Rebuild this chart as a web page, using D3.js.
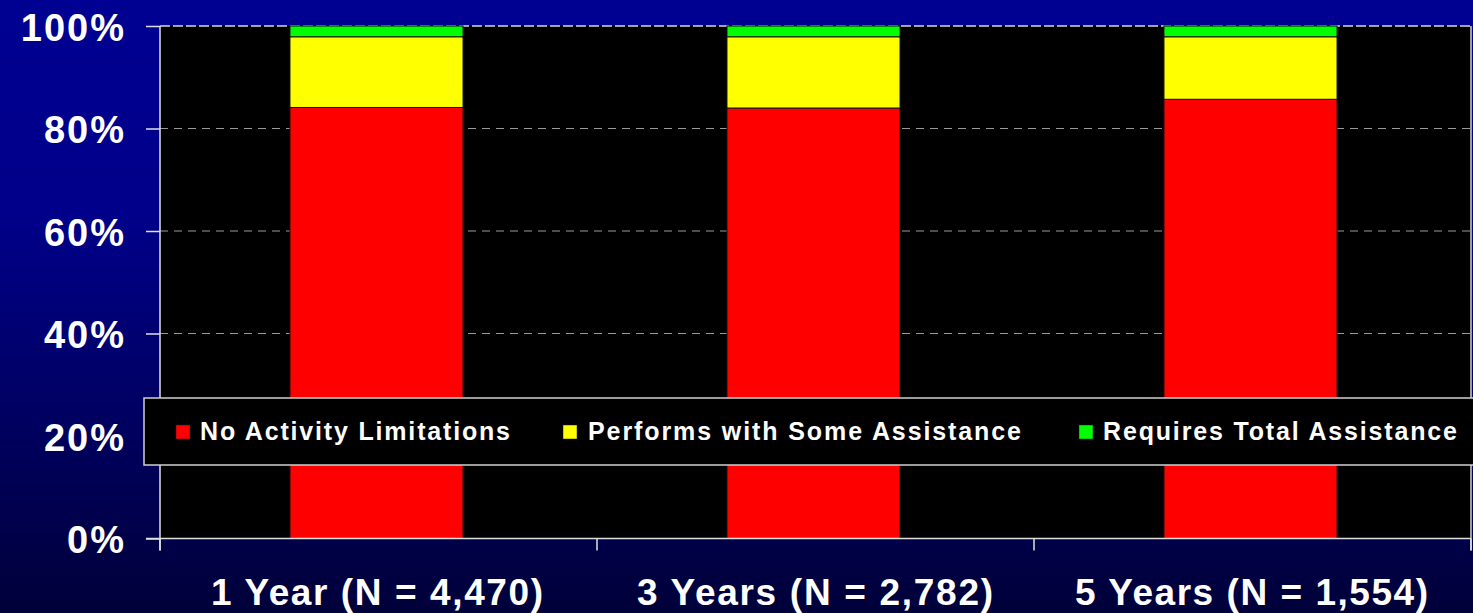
<!DOCTYPE html>
<html>
<head>
<meta charset="utf-8">
<script src="https://d3js.org/d3.v7.min.js"></script>
<style>
  html, body { margin: 0; padding: 0; background: #000060; overflow: hidden; }
  svg { display: block; font-family: "Liberation Sans", Arial, sans-serif; font-weight: bold; }
</style>
</head>
<body>
<svg id="chart" width="1473" height="613"></svg>
<script>
// ---- data ----
const categories = ["1 Year (N = 4,470)", "3 Years (N = 2,782)", "5 Years (N = 1,554)"];
const seriesNames = ["No Activity Limitations", "Performs with Some Assistance", "Requires Total Assistance"];
const noLimitations = [84.1, 84.0, 85.7];
const someAssistance = [13.8, 13.9, 12.2];
const totalAssistance = [2.1, 2.1, 2.1];
const yTicks = [0, 20, 40, 60, 80, 100];
const yTickLabels = ["0%", "20%", "40%", "60%", "80%", "100%"];
const colors = ["#ff0000", "#ffff00", "#00ff00"];

// ---- layout ----
const W = 1473, H = 613;
const plot = { left: 160, right: 1471, top: 26, bottom: 538.5 };
const svg = d3.select("#chart");

// background gradient
const defs = svg.append("defs");
const grad = defs.append("linearGradient").attr("id", "bg").attr("x1", 0).attr("y1", 0).attr("x2", 0).attr("y2", 1);
grad.append("stop").attr("offset", "0%").attr("stop-color", "#000092");
grad.append("stop").attr("offset", "35%").attr("stop-color", "#00008a");
grad.append("stop").attr("offset", "100%").attr("stop-color", "#00003a");
svg.append("rect").attr("width", W).attr("height", H).attr("fill", "url(#bg)");

const x = d3.scaleBand().domain(categories).range([plot.left, plot.right]).padding(0);
const y = d3.scaleLinear().domain([0, 100]).range([plot.bottom, plot.top]);

// plot area
svg.append("rect")
  .attr("x", plot.left).attr("y", plot.top)
  .attr("width", plot.right - plot.left).attr("height", plot.bottom - plot.top)
  .attr("fill", "#000");

// gridlines
svg.append("g").selectAll("line").data(yTicks.filter(d => d > 0 && d < 100)).join("line")
  .attr("x1", plot.left).attr("x2", plot.right)
  .attr("y1", d => y(d)).attr("y2", d => y(d))
  .attr("stroke", "#9a9a9a").attr("stroke-width", 1.2).attr("stroke-dasharray", "8,6");
// top border
svg.append("line").attr("x1", plot.left).attr("x2", plot.right)
  .attr("y1", y(100)).attr("y2", y(100))
  .attr("stroke", "#d8d8d8").attr("stroke-width", 1.5).attr("stroke-dasharray", "10,3");
// right border
svg.append("line").attr("x1", plot.right).attr("x2", plot.right)
  .attr("y1", plot.top).attr("y2", plot.bottom + 12)
  .attr("stroke", "#cfcfcf").attr("stroke-width", 1.5);

// stacked bars
const rows = categories.map((c, i) => ({ cat: c, v: [noLimitations[i], someAssistance[i], totalAssistance[i]] }));
const barFrac = 0.396;
const gBars = svg.append("g");
rows.forEach(r => {
  let base = 0;
  const bw = x.bandwidth() * barFrac;
  const bx = x(r.cat) + (x.bandwidth() - bw) / 2 - 2;
  r.v.forEach((v, k) => {
    gBars.append("rect")
      .attr("x", bx).attr("width", bw)
      .attr("y", y(base + v)).attr("height", y(base) - y(base + v))
      .attr("fill", colors[k])
      .attr("stroke", "#111").attr("stroke-width", 1);
    base += v;
  });
});

// y axis
const yAxis = d3.axisLeft(y).tickValues(yTicks).tickSize(14).tickFormat((d, i) => yTickLabels[i]);
const gy = svg.append("g").attr("transform", `translate(${plot.left},0)`).call(yAxis);
gy.select(".domain").remove();
gy.selectAll(".tick line").attr("stroke", "#e0e0e0").attr("stroke-width", 1.5);
gy.selectAll(".tick text").attr("fill", "#fff").attr("font-size", 38).attr("font-weight", "bold")
  .attr("font-family", "'Liberation Sans', Arial, sans-serif")
  .attr("letter-spacing", 2)
  .attr("x", -34).attr("dy", 14).attr("dominant-baseline", "auto");
svg.append("line").attr("x1", plot.left).attr("x2", plot.left)
  .attr("y1", plot.top).attr("y2", plot.bottom + 12)
  .attr("stroke", "#e0e0e0").attr("stroke-width", 1.5);

// x axis
svg.append("line").attr("x1", plot.left - 14).attr("x2", plot.right)
  .attr("y1", plot.bottom).attr("y2", plot.bottom)
  .attr("stroke", "#e0e0e0").attr("stroke-width", 1.5);
const boundaries = categories.map(c => x(c)).concat([plot.right]);
svg.append("g").selectAll("line").data(boundaries).join("line")
  .attr("x1", d => d).attr("x2", d => d)
  .attr("y1", plot.bottom).attr("y2", plot.bottom + 12)
  .attr("stroke", "#e0e0e0").attr("stroke-width", 1.5);
const xLabelSpan = [[211, 543], [637, 993], [1075, 1428]];
svg.append("g").selectAll("text").data(categories).join("text")
  .attr("x", (d, i) => xLabelSpan[i][0])
  .attr("y", 605)
  .attr("textLength", (d, i) => xLabelSpan[i][1] - xLabelSpan[i][0])
  .attr("lengthAdjust", "spacing")
  .attr("fill", "#fff").attr("font-size", 37)
  .text(d => d);

// legend
svg.append("rect").attr("x", 144).attr("y", 398).attr("width", 1340).attr("height", 67)
  .attr("fill", "#000").attr("stroke", "#d0d0d0").attr("stroke-width", 1.5);
const legendPos = [{ sq: 176, t0: 200, t1: 510 }, { sq: 563, t0: 588, t1: 1021 }, { sq: 1079, t0: 1103, t1: 1457 }];
const gLeg = svg.append("g");
seriesNames.forEach((s, i) => {
  gLeg.append("rect").attr("x", legendPos[i].sq).attr("y", 425).attr("width", 14).attr("height", 14)
    .attr("fill", colors[i]).attr("stroke", "#222").attr("stroke-width", 0.5);
  gLeg.append("text").attr("x", legendPos[i].t0).attr("y", 440)
    .attr("textLength", legendPos[i].t1 - legendPos[i].t0).attr("lengthAdjust", "spacing")
    .attr("fill", "#fff").attr("font-size", 25).text(s);
});
</script>
</body>
</html>
